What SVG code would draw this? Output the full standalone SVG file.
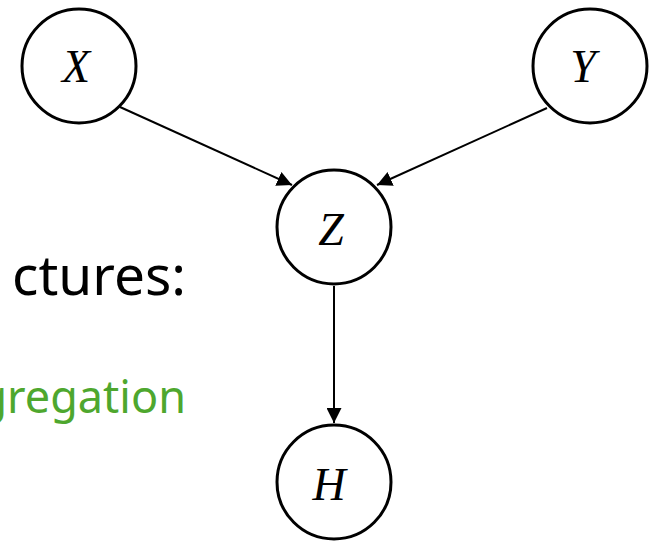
<svg xmlns="http://www.w3.org/2000/svg" width="656" height="544" viewBox="0 0 656 544">
  <style>
    .node circle { fill: #ffffff; stroke: #000000; stroke-width: 3; }
    .node text { font-family: "Liberation Serif", "DejaVu Serif", serif; font-style: italic; font-size: 46px; fill: #000000; text-anchor: middle; }
    .edge { stroke: #000000; stroke-width: 2; fill: none; marker-end: url(#arrow); }
    .label { font-family: "Noto Sans", "Liberation Sans", sans-serif; text-anchor: end; }
  </style>
  <defs>
    <marker id="arrow" viewBox="0 0 10 10" refX="10" refY="5" markerWidth="7.5" markerHeight="7.5" orient="auto" markerUnits="strokeWidth">
      <path d="M0,0 L10,5 L0,10 z" fill="#000000"/>
    </marker>
  </defs>
  <rect width="656" height="544" fill="#ffffff"/>

  <!-- partially visible slide text -->
  <text class="label" x="186" y="295" font-size="55" fill="#000000">ctures:</text>
  <text class="label" x="186" y="413" font-size="45" fill="#4EA72E">gregation</text>

  <g id="edges">
    <line class="edge" x1="120" y1="107" x2="292" y2="185"/>
    <line class="edge" x1="547" y1="108" x2="377" y2="185"/>
    <line class="edge" x1="334" y1="286" x2="334" y2="423"/>
  </g>

  <g id="node-X" class="node">
    <circle cx="79" cy="66" r="57"/>
    <text x="76" y="82">X</text>
  </g>
  <g id="node-Y" class="node">
    <circle cx="590" cy="66" r="57"/>
    <text x="583" y="82">Y</text>
  </g>
  <g id="node-Z" class="node">
    <circle cx="334" cy="227" r="57"/>
    <text x="331" y="245">Z</text>
  </g>
  <g id="node-H" class="node">
    <circle cx="334" cy="482" r="57"/>
    <text x="329" y="500">H</text>
  </g>
</svg>
